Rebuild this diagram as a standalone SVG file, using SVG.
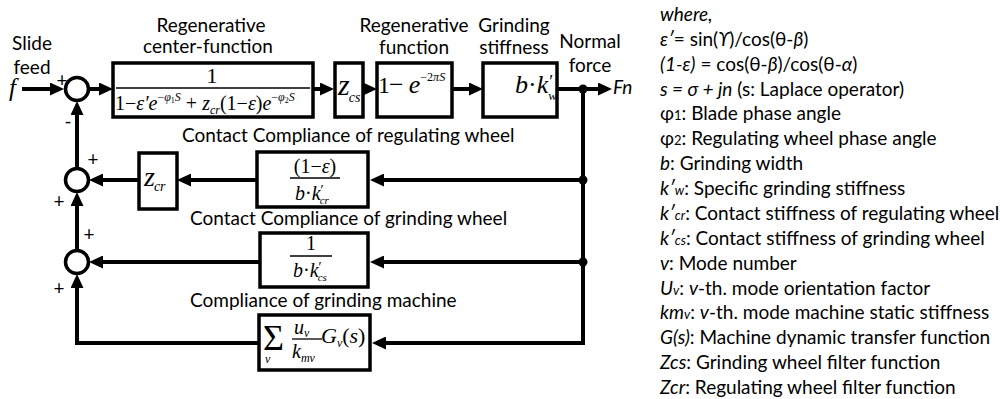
<svg xmlns="http://www.w3.org/2000/svg" width="1000" height="399" viewBox="0 0 1000 399">
<defs>
<style>
.t{font-family:Lato,"Liberation Sans","DejaVu Sans",sans-serif;font-size:19px;fill:#000}
.i{font-style:italic}
.s{font-size:13px}
.m{font-family:"Liberation Serif","Times New Roman",serif;font-style:italic;fill:#000}
.r{font-style:normal}
.box{fill:#fff;stroke:#000;stroke-width:3.5}
.ln{fill:none;stroke:#000;stroke-width:4}
.fr{stroke:#000;stroke-width:1.3}
.sum{fill:#fff;stroke:#000;stroke-width:3.5}
</style>
<marker id="ah" viewBox="0 0 14 13" refX="4" refY="6.5" markerWidth="14" markerHeight="13" markerUnits="userSpaceOnUse" orient="auto"><path d="M0,0 L14,6.5 L0,13 z" fill="#000"/></marker>
</defs>
<rect width="1000" height="399" fill="#fff"/>

<g id="connectors">
<path class="ln" d="M22,89 H54" marker-end="url(#ah)"/>
<path class="ln" d="M89,89 H103" marker-end="url(#ah)"/>
<path class="ln" d="M313,89 H324" marker-end="url(#ah)"/>
<path class="ln" d="M363,89 H367" marker-end="url(#ah)"/>
<path class="ln" d="M452,89 H473" marker-end="url(#ah)"/>
<path class="ln" d="M557,89 H602" marker-end="url(#ah)"/>
<path class="ln" d="M583,89 V343 H382" marker-end="url(#ah)"/>
<path class="ln" d="M583,180 H380" marker-end="url(#ah)"/>
<path class="ln" d="M583,262 H380" marker-end="url(#ah)"/>
<path class="ln" d="M257,180 H187" marker-end="url(#ah)"/>
<path class="ln" d="M139,180 H99" marker-end="url(#ah)"/>
<path class="ln" d="M260,262 H99" marker-end="url(#ah)"/>
<path class="ln" d="M259,343 H77 V284" marker-end="url(#ah)"/>
<path class="ln" d="M77,250 V202" marker-end="url(#ah)"/>
<path class="ln" d="M77,168 V111" marker-end="url(#ah)"/>
<circle cx="583" cy="89" r="4.5"/>
<circle cx="583" cy="180" r="4.5"/>
<circle cx="583" cy="262" r="4.5"/>
</g>

<g id="input">
<text class="t" x="32" y="50" text-anchor="middle">Slide</text>
<text class="t" x="32" y="74" text-anchor="middle">feed</text>
<text class="m" x="9" y="96" font-size="25">f</text>
</g>

<g id="sum1">
<circle class="sum" cx="77" cy="89" r="11.5"/>
<text class="t" x="62" y="87" font-size="17" text-anchor="middle">+</text>
<text class="t" x="68" y="128" font-size="20" text-anchor="middle">-</text>
</g>
<g id="sum2">
<circle class="sum" cx="77" cy="180" r="11.5"/>
<text class="t" x="93" y="166" font-size="16" text-anchor="middle">+</text>
<text class="t" x="59" y="208" font-size="16" text-anchor="middle">+</text>
</g>
<g id="sum3">
<circle class="sum" cx="77" cy="262" r="11.5"/>
<text class="t" x="89" y="241" font-size="16" text-anchor="middle">+</text>
<text class="t" x="59" y="295" font-size="16" text-anchor="middle">+</text>
</g>

<g id="center-function">
<text class="t" x="211" y="32" text-anchor="middle">Regenerative</text>
<text class="t" x="208" y="53" text-anchor="middle">center-function</text>
<rect class="box" x="113" y="63" width="200" height="54"/>
<text class="m r" x="212" y="83" font-size="22" text-anchor="middle">1</text>
<line class="fr" x1="116" y1="88" x2="310" y2="88"/>
<text class="m" x="115" y="110" font-size="20"><tspan class="r">1−</tspan>ε′e<tspan font-size="12" dy="-9"><tspan class="r">−</tspan>φ</tspan><tspan class="r" font-size="8" dy="2">1</tspan><tspan font-size="12" dy="-2">S</tspan><tspan class="r" dy="9"> + </tspan>z<tspan font-size="12" dy="4">cr</tspan><tspan class="r" dy="-4">(1−</tspan>ε<tspan class="r">)</tspan>e<tspan font-size="12" dy="-9"><tspan class="r">−</tspan>φ</tspan><tspan class="r" font-size="8" dy="2">2</tspan><tspan font-size="12" dy="-2">S</tspan></text>
</g>

<g id="zcs">
<rect class="box" x="335" y="63" width="28" height="54"/>
<text class="m" x="338" y="95" font-size="30">z<tspan font-size="14" dx="-1" dy="7">cs</tspan></text>
</g>

<g id="regenerative-function">
<text class="t" x="414" y="32" text-anchor="middle">Regenerative</text>
<text class="t" x="414" y="54" text-anchor="middle">function</text>
<rect class="box" x="377" y="63" width="75" height="54"/>
<text class="m" x="378" y="93" font-size="24"><tspan class="r">1</tspan><tspan class="r" font-size="26" dx="-1">−</tspan><tspan font-size="26" dx="5">e</tspan><tspan font-size="12" dy="-12" textLength="25" lengthAdjust="spacingAndGlyphs"><tspan class="r">−2</tspan>πS</tspan></text>
</g>

<g id="grinding-stiffness">
<text class="t" x="514" y="32" text-anchor="middle">Grinding</text>
<text class="t" x="514" y="54" text-anchor="middle">stiffness</text>
<rect class="box" x="483" y="63" width="74" height="54"/>
<text class="m" x="515" y="93" font-size="26">b<tspan class="r">·</tspan>k<tspan class="r" font-size="18" dx="1" dy="-5">′</tspan><tspan font-size="13" dx="-5" dy="12">w</tspan></text>
</g>

<g id="output">
<text class="t" x="590" y="48" text-anchor="middle">Normal</text>
<text class="t" x="590" y="72" text-anchor="middle">force</text>
<text class="t i" x="613" y="94">Fn</text>
</g>

<g id="zcr">
<rect class="box" x="139" y="153" width="38" height="56"/>
<text class="m" x="144" y="186" font-size="28">z<tspan font-size="14" dx="-1" dy="5">cr</tspan></text>
</g>

<g id="regulating-compliance">
<text class="t" x="182" y="142">Contact Compliance of regulating wheel</text>
<rect class="box" x="257" y="152" width="111" height="55"/>
<text class="m" x="315" y="173" font-size="20" text-anchor="middle"><tspan class="r">(1−</tspan>ε<tspan class="r">)</tspan></text>
<line class="fr" x1="290" y1="178" x2="340" y2="178"/>
<text class="m" x="295" y="200" font-size="20">b<tspan class="r">·</tspan>k<tspan class="r" font-size="14" dx="0" dy="-5">′</tspan><tspan font-size="11" dx="-4" dy="9">cr</tspan></text>
</g>

<g id="grinding-compliance">
<text class="t" x="190" y="225">Contact Compliance of grinding wheel</text>
<rect class="box" x="260" y="233" width="108" height="54"/>
<text class="m r" x="311" y="250" font-size="20" text-anchor="middle">1</text>
<line class="fr" x1="290" y1="256" x2="332" y2="256"/>
<text class="m" x="293" y="277" font-size="20">b<tspan class="r">·</tspan>k<tspan class="r" font-size="14" dx="0" dy="-5">′</tspan><tspan font-size="11" dx="-4" dy="9">cs</tspan></text>
</g>

<g id="machine-compliance">
<text class="t" x="190" y="307">Compliance of grinding machine</text>
<rect class="box" x="259" y="315" width="111" height="55"/>
<text class="m r" x="263" y="350" font-size="36">Σ<tspan class="i" font-size="12" dx="-19" dy="13">v</tspan></text>
<text class="m" x="294" y="334" font-size="20">u<tspan font-size="12" dy="3">v</tspan></text>
<line class="fr" x1="292" y1="339" x2="322" y2="339"/>
<text class="m" x="292" y="358" font-size="20">k<tspan font-size="12" dy="4">mv</tspan></text>
<text class="m" x="321" y="343" font-size="22">G<tspan font-size="12" dy="4">v</tspan><tspan class="r" dy="-4">(</tspan>s<tspan class="r">)</tspan></text>
</g>

<g id="legend" class="t">
<text x="660" y="21"><tspan class="i">where,</tspan></text>
<text x="660" y="46"><tspan class="i">ε′</tspan>= sin(<tspan class="i">ϒ</tspan>)/cos(θ-<tspan class="i">β</tspan>)</text>
<text x="660" y="71"><tspan class="i">(1-ε)</tspan> = cos(θ-<tspan class="i">β</tspan>)/cos(θ-<tspan class="i">α</tspan>)</text>
<text x="660" y="96"><tspan class="i">s = σ + jn</tspan> (s: Laplace operator)</text>
<text x="660" y="120">φ<tspan class="s">1</tspan>: Blade phase angle</text>
<text x="660" y="145">φ<tspan class="s">2</tspan>: Regulating wheel phase angle</text>
<text x="660" y="170"><tspan class="i">b</tspan>: Grinding width</text>
<text x="660" y="195"><tspan class="i">k′</tspan><tspan class="i s">w</tspan>: Specific grinding stiffness</text>
<text x="660" y="220"><tspan class="i">k′</tspan><tspan class="i s">cr</tspan>: Contact stiffness of regulating wheel</text>
<text x="660" y="245"><tspan class="i">k′</tspan><tspan class="i s">cs</tspan>: Contact stiffness of grinding wheel</text>
<text x="660" y="270"><tspan class="i">v</tspan>: Mode number</text>
<text x="660" y="295"><tspan class="i">U</tspan><tspan class="i s">v</tspan>: <tspan class="i">v</tspan>-th. mode orientation factor</text>
<text x="660" y="319"><tspan class="i">km</tspan><tspan class="i s">v</tspan>: <tspan class="i">v</tspan>-th. mode machine static stiffness</text>
<text x="660" y="344"><tspan class="i">G(s)</tspan>: Machine dynamic transfer function</text>
<text x="660" y="369"><tspan class="i">Zcs</tspan>: Grinding wheel filter function</text>
<text x="660" y="394"><tspan class="i">Zcr</tspan>: Regulating wheel filter function</text>
</g>
</svg>
